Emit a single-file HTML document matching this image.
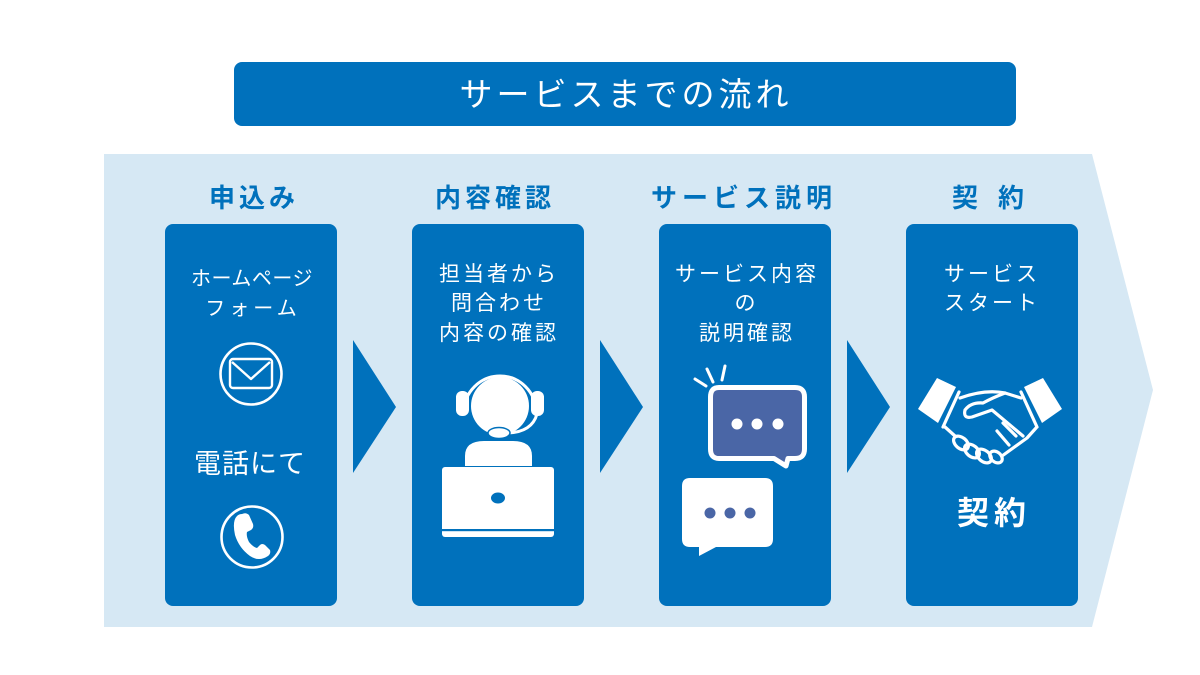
<!DOCTYPE html>
<html>
<head>
<meta charset="utf-8">
<style>
html,body{margin:0;padding:0;background:#fff;}
body{width:1200px;height:675px;overflow:hidden;}
svg{display:block;}
text{font-family:"Liberation Sans","Noto Sans CJK JP",sans-serif;}
.h{font-size:26px;font-weight:bold;fill:#0071BC;}
.t{font-size:21px;fill:#fff;}
</style>
</head>
<body>
<svg width="1200" height="675" viewBox="0 0 1200 675" xmlns="http://www.w3.org/2000/svg">
  <rect x="0" y="0" width="1200" height="675" fill="#fff"/>
  <!-- title bar -->
  <rect x="234" y="62" width="782" height="64" rx="8" fill="#0071BC"/>
  <text x="626" y="106" text-anchor="middle" fill="#fff" style="font-size:33px;letter-spacing:4px;">サービスまでの流れ</text>

  <!-- band -->
  <polygon points="104,154 1092,154 1153,390 1092,627 104,627" fill="#D6E8F4"/>

  <!-- headings -->
  <text class="h" x="254" y="207" text-anchor="middle" style="letter-spacing:4px;">申込み</text>
  <text class="h" x="495" y="207" text-anchor="middle" style="letter-spacing:4px;">内容確認</text>
  <text class="h" x="744" y="207" text-anchor="middle" style="letter-spacing:5px;">サービス説明</text>
  <text class="h" x="998" y="207" text-anchor="middle" style="letter-spacing:20px;">契約</text>

  <!-- cards -->
  <rect x="165" y="224" width="172" height="382" rx="8" fill="#0071BC"/>
  <rect x="412" y="224" width="172" height="382" rx="8" fill="#0071BC"/>
  <rect x="659" y="224" width="172" height="382" rx="8" fill="#0071BC"/>
  <rect x="906" y="224" width="172" height="382" rx="8" fill="#0071BC"/>

  <!-- arrows -->
  <polygon points="353,340 396,407 353,473" fill="#0071BC"/>
  <polygon points="600,340 643,407 600,473" fill="#0071BC"/>
  <polygon points="847,340 890,407 847,473" fill="#0071BC"/>

  <!-- card 1 -->
  <text class="t" x="252" y="285" text-anchor="middle" style="font-size:20px;letter-spacing:0.5px;">ホームページ</text>
  <text class="t" x="253" y="315" text-anchor="middle" style="font-size:20px;letter-spacing:4px;">フォーム</text>
  <circle cx="251" cy="374" r="30.5" fill="none" stroke="#fff" stroke-width="2.6"/>
  <rect x="230" y="359" width="42" height="29" rx="3" fill="none" stroke="#fff" stroke-width="2.4"/>
  <polyline points="232,362 251,379 270,362" fill="none" stroke="#fff" stroke-width="2.4" stroke-linejoin="round"/>
  <text class="t" x="250" y="473" text-anchor="middle" style="font-size:27px;letter-spacing:1px;">電話にて</text>
  <circle cx="252" cy="537" r="30.5" fill="none" stroke="#fff" stroke-width="2.6"/>
  <path d="M242 514 Q246 512 249 515 L253 524 Q254 528 251 530 L247 532 Q246 536 249 542 Q253 547 257 548 L260 545 Q262 543 265 545 L270 550 Q271 554 268 556 Q259 562 250 556 Q239 548 235 535 Q232 521 237 516 Q239 514 242 514 Z" fill="#fff"/>

  <!-- card 2 -->
  <text class="t" x="499" y="281" text-anchor="middle" style="letter-spacing:3px;">担当者から</text>
  <text class="t" x="499" y="310" text-anchor="middle" style="letter-spacing:3px;">問合わせ</text>
  <text class="t" x="499" y="340" text-anchor="middle" style="letter-spacing:3px;">内容の確認</text>
  <!-- operator -->
  <path d="M464 412 A36 36 0 0 1 536 412" fill="none" stroke="#fff" stroke-width="3"/>
  <circle cx="500" cy="406" r="29" fill="#fff"/>
  <rect x="456" y="391" width="13" height="25" rx="6" fill="#fff"/>
  <rect x="531" y="391" width="13" height="25" rx="6" fill="#fff"/>
  <path d="M537 414 Q532 432 508 433" fill="none" stroke="#fff" stroke-width="3"/>
  <ellipse cx="499" cy="433" rx="11" ry="5.5" fill="#fff" stroke="#0071BC" stroke-width="1.5"/>
  <path d="M465 466 L465 456 Q465 441 484 441 L513 441 Q532 441 532 456 L532 466 Z" fill="#fff"/>
  <rect x="442" y="467" width="112" height="70" rx="3" fill="#fff"/>
  <rect x="442" y="529" width="112" height="2.2" fill="#0071BC"/>
  <ellipse cx="498" cy="498" rx="7" ry="5.5" fill="#0071BC"/>

  <!-- card 3 -->
  <text class="t" x="747" y="281" text-anchor="middle" style="letter-spacing:3px;">サービス内容</text>
  <text class="t" x="745" y="310" text-anchor="middle">の</text>
  <text class="t" x="747" y="340" text-anchor="middle" style="letter-spacing:3px;">説明確認</text>
  <!-- sparkles -->
  <g stroke="#fff" stroke-width="3" stroke-linecap="round">
    <line x1="695" y1="379" x2="706" y2="386"/>
    <line x1="707" y1="369" x2="713" y2="382"/>
    <line x1="725" y1="366" x2="722" y2="380"/>
  </g>
  <path d="M719 387.5 H795 Q804.5 387.5 804.5 397 V449 Q804.5 458.5 795 458.5 H788 L786 466 L774 458.5 H719 Q710.5 458.5 710.5 449 V397 Q710.5 387.5 719 387.5 Z" fill="#4A66A6" stroke="#fff" stroke-width="5" stroke-linejoin="round"/>
  <circle cx="737" cy="424" r="5.5" fill="#fff"/>
  <circle cx="757" cy="424" r="5.5" fill="#fff"/>
  <circle cx="778" cy="424" r="5.5" fill="#fff"/>
  <path d="M690 478 H765 Q773 478 773 486 V539 Q773 547 765 547 H716 L699 556 L699 547 H690 Q682 547 682 539 V486 Q682 478 690 478 Z" fill="#fff"/>
  <circle cx="710" cy="513" r="5.5" fill="#4A66A6"/>
  <circle cx="730" cy="513" r="5.5" fill="#4A66A6"/>
  <circle cx="750" cy="513" r="5.5" fill="#4A66A6"/>

  <!-- card 4 -->
  <text class="t" x="992" y="281" text-anchor="middle" style="letter-spacing:3px;">サービス</text>
  <text class="t" x="992" y="310" text-anchor="middle" style="letter-spacing:3px;">スタート</text>
  <!-- handshake -->
  <polygon points="937,378 956,387 938,423 918,409" fill="#fff"/>
  <polygon points="1043,378 1024,387 1042,423 1062,409" fill="#fff"/>
  <g fill="none" stroke="#fff" stroke-width="3.2" stroke-linecap="round" stroke-linejoin="round">
    <line x1="959" y1="392" x2="943" y2="427"/>
    <line x1="1021" y1="392" x2="1037" y2="427"/>
    <path d="M960 398 Q985 389 1005 393 L1021 398"/>
    <path d="M1005 393 Q992 398 983 403 Q971 402 965 410 Q963 419 972 417 L992 410 L1023 436"/>
    <path d="M945 427 L955 436"/>
    <path d="M1002 456 L1027 438 L1036 428"/>
    <line x1="1003" y1="423" x2="1016" y2="436"/>
    <line x1="997" y1="431" x2="1009" y2="445"/>
    <ellipse cx="961" cy="443" rx="8.5" ry="5.5" transform="rotate(40 961 443)"/>
    <ellipse cx="972" cy="451" rx="8.5" ry="5.5" transform="rotate(40 972 451)"/>
    <ellipse cx="984" cy="456" rx="8.5" ry="5.5" transform="rotate(40 984 456)"/>
    <ellipse cx="996" cy="457" rx="7" ry="5" transform="rotate(40 996 457)"/>
  </g>
  <text x="994" y="524" text-anchor="middle" fill="#fff" style="font-size:32px;font-weight:bold;letter-spacing:5px;">契約</text>
</svg>
</body>
</html>
